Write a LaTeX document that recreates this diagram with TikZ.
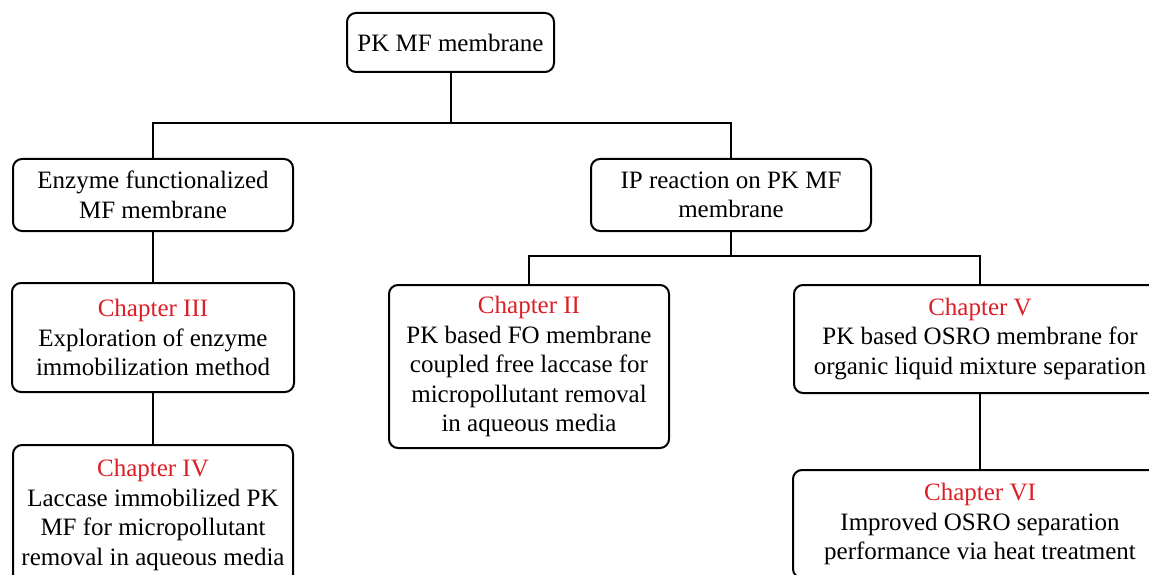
\documentclass[tikz,border=0pt]{standalone}
\usepackage{fontspec}
\setmainfont{Liberation Serif}
\usetikzlibrary{positioning}
\definecolor{chapred}{RGB}{220,30,38}
\tikzset{
  box/.style={draw, rounded corners=9pt, line width=2pt, align=center, inner sep=0pt,
    font=\fontsize{25}{29.5}\selectfont},
  link/.style={line width=2pt},
}
\newcommand{\chap}[1]{\textcolor{chapred}{Chapter #1}}

\begin{document}
\begin{tikzpicture}[x=1pt,y=-1pt]
\useasboundingbox (0,0) rectangle (1149,575);

% top levels
\node[box, minimum width=207pt, minimum height=59pt] (pk) at (450.5,42.5) {PK MF membrane};
\node[box, minimum width=280pt, minimum height=72pt] (enz) at (153,195) {Enzyme functionalized\\MF membrane};
\node[box, minimum width=280pt, minimum height=72pt] (ip) at (731,195) {IP reaction on PK MF\\membrane};

% chapters
\node[box, minimum width=282pt, minimum height=109pt] (c3) at (153,337.5)
  {\chap{III}\\Exploration of enzyme\\immobilization method};
\node[box, minimum width=280pt, minimum height=140pt] (c4) at (153,515)
  {\chap{IV}\\Laccase immobilized PK\\MF for micropollutant\\removal in aqueous media};
\node[box, minimum width=280pt, minimum height=163pt] (c2) at (529,366.5)
  {\chap{II}\\PK based FO membrane\\coupled free laccase for\\micropollutant removal\\in aqueous media};
\node[box, minimum width=372pt, minimum height=108pt] (c5) at (980,339)
  {\chap{V}\\PK based OSRO membrane for\\organic liquid mixture separation};
\node[box, minimum width=374pt, minimum height=108pt] (c6) at (980,524)
  {\chap{VI}\\Improved OSRO separation\\performance via heat treatment};

% connectors
\coordinate (j1) at (450.5,123);
\coordinate (j2) at (731,256);
\draw[link] (pk.south) -- (pk.south |- j1);
\draw[link] (enz.north) |- (j1) -| (ip.north);
\draw[link] (ip.south) -- (ip.south |- j2);
\draw[link] (c2.north) |- (j2) -| (c5.north);
\draw[link] (enz.south) -- (c3.north);
\draw[link] (c3.south) -- (c4.north);
\draw[link] (c5.south) -- (c6.north);

\end{tikzpicture}
\end{document}
